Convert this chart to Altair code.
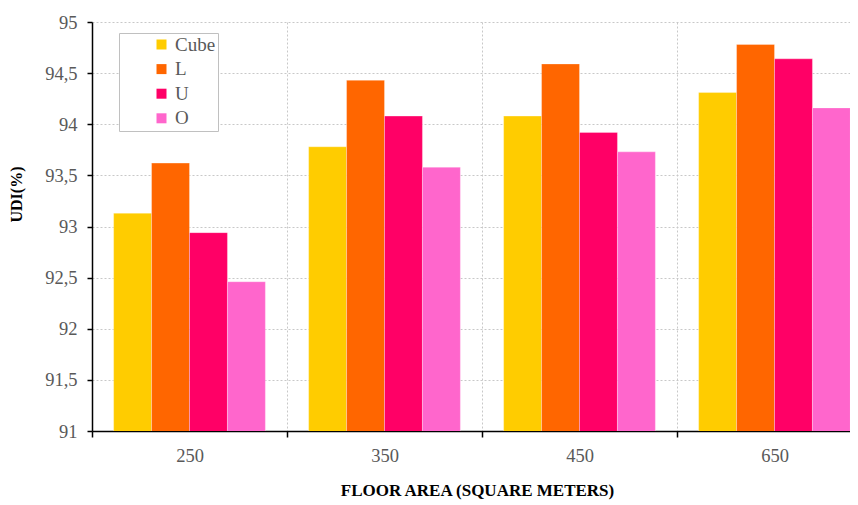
import altair as alt
import pandas as pd

areas = ["250", "350", "450", "650"]
shapes = ["Cube", "L", "U", "O"]
colors = ["#FFCC00", "#FF6600", "#FF0066", "#FF66CC"]
udi_cube = [93.13, 93.78, 94.08, 94.31]
udi_l = [93.62, 94.43, 94.59, 94.78]
udi_u = [92.94, 94.08, 93.92, 94.64]
udi_o = [92.46, 93.58, 93.73, 94.16]

series = {"Cube": udi_cube, "L": udi_l, "U": udi_u, "O": udi_o}
rows = []
for s in shapes:
    for a, v in zip(areas, series[s]):
        rows.append({"area": a, "shape": s, "udi": v})
df = pd.DataFrame(rows)

FONT = "Liberation Serif"

chart = alt.Chart(df).mark_bar(clip=True, stroke="#ffffff", strokeWidth=0.6, strokeOpacity=0.5).encode(
    x=alt.X("area:N", sort=areas,
            scale=alt.Scale(paddingInner=0, paddingOuter=0, range=[0, 780]),
            axis=alt.Axis(title="FLOOR AREA (SQUARE METERS)", labelAngle=0, tickBand="extent",
                          grid=True, gridDash=[2, 2], gridColor="#c8c8c8",
                          domainColor="#000000", domainWidth=1.5, tickColor="#000000", tickWidth=1.5,
                          tickSize=6, labelFont=FONT, labelFontSize=18.5, labelColor="#595959",
                          labelPadding=9, titleFont=FONT, titleFontSize=17, titleFontWeight="bold",
                          titleColor="#000000", titlePadding=18, titleAlign="center", titleX=385)),
    xOffset=alt.XOffset("shape:N", sort=shapes, scale=alt.Scale(paddingInner=0, paddingOuter=0.57)),
    y=alt.Y("udi:Q", scale=alt.Scale(domain=[91, 95], nice=False, zero=False),
            axis=alt.Axis(title="UDI(%)", values=[91, 91.5, 92, 92.5, 93, 93.5, 94, 94.5, 95],
                          labelExpr="replace(toString(datum.value), '.', ',')",
                          grid=True, gridDash=[2, 2], gridColor="#c8c8c8",
                          domainColor="#000000", domainWidth=1.5, tickColor="#000000", tickWidth=1.5,
                          tickSize=5, labelFont=FONT, labelFontSize=18.5, labelColor="#595959",
                          labelPadding=10, titleFont=FONT, titleFontSize=16, titleFontWeight="bold",
                          titleColor="#000000", titlePadding=20, titleY=172, titleAlign="center")),
    color=alt.Color("shape:N", sort=shapes, scale=alt.Scale(domain=shapes, range=colors),
                    legend=alt.Legend(title=None, orient="none", legendX=27, legendY=11,
                                      symbolType="square", symbolSize=100, symbolStrokeWidth=0,
                                      labelFont=FONT, labelFontSize=19, labelColor="#595959",
                                      labelExpr="datum.label + '   '",
                                      strokeColor="#c0c0c0", padding=2, symbolOffset=31,
                                      rowPadding=4.6, labelOffset=4, fillColor="#ffffff")),
).properties(
    width=758, height=409,
    autosize=alt.AutoSizeParams(type="none"),
    padding={"left": 84, "top": 14, "right": 0, "bottom": 70},
).configure_view(stroke=None)

chart.save("out.html", embed_options={"renderer": "svg", "actions": False})
